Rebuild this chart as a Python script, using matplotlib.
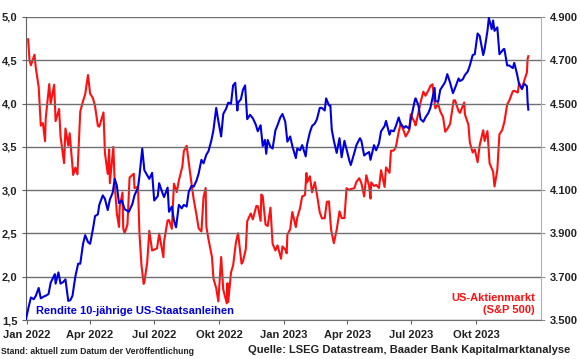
import matplotlib
matplotlib.use("Agg")
import matplotlib.pyplot as plt
import matplotlib.ticker as mticker
import pandas as pd

plt.rcParams['font.family'] = ['Liberation Sans', 'DejaVu Sans']
plt.rcParams['font.weight'] = 'bold'

yield_dates = [
"2021-12-31","2022-01-04","2022-01-07","2022-01-11","2022-01-14","2022-01-18","2022-01-21","2022-01-25","2022-01-28",
"2022-02-01","2022-02-04","2022-02-10","2022-02-11","2022-02-15","2022-02-18","2022-02-22","2022-02-25","2022-03-01",
"2022-03-04","2022-03-07","2022-03-11","2022-03-15","2022-03-18","2022-03-22","2022-03-25","2022-03-29","2022-04-01",
"2022-04-05","2022-04-08","2022-04-12","2022-04-14","2022-04-19","2022-04-22","2022-04-26","2022-04-29","2022-05-03",
"2022-05-06","2022-05-09","2022-05-12","2022-05-16","2022-05-20","2022-05-26","2022-05-31","2022-06-03","2022-06-08",
"2022-06-10","2022-06-14","2022-06-17","2022-06-22","2022-06-24","2022-06-28","2022-07-01","2022-07-06","2022-07-08",
"2022-07-13","2022-07-15","2022-07-20","2022-07-22","2022-07-26","2022-07-29","2022-08-01","2022-08-05","2022-08-09",
"2022-08-12","2022-08-16","2022-08-19","2022-08-23","2022-08-26","2022-08-30","2022-09-02","2022-09-06","2022-09-09",
"2022-09-13","2022-09-16","2022-09-20","2022-09-23","2022-09-27","2022-09-30","2022-10-04","2022-10-07","2022-10-11",
"2022-10-14","2022-10-18","2022-10-21","2022-10-24","2022-10-27","2022-10-28","2022-11-01","2022-11-04","2022-11-07",
"2022-11-10","2022-11-14","2022-11-18","2022-11-22","2022-11-25","2022-11-29","2022-12-02","2022-12-05","2022-12-07",
"2022-12-09","2022-12-13","2022-12-16","2022-12-20","2022-12-23","2022-12-27","2022-12-30",
"2023-01-03","2023-01-06","2023-01-10","2023-01-13","2023-01-18","2023-01-20","2023-01-24","2023-01-27","2023-02-01",
"2023-02-03","2023-02-07","2023-02-10","2023-02-14","2023-02-17","2023-02-21","2023-02-24","2023-02-28","2023-03-02",
"2023-03-06","2023-03-08","2023-03-10","2023-03-13","2023-03-17","2023-03-21","2023-03-24","2023-03-28","2023-03-31",
"2023-04-04","2023-04-06","2023-04-11","2023-04-14","2023-04-19","2023-04-21","2023-04-25","2023-04-28","2023-05-02",
"2023-05-04","2023-05-09","2023-05-12","2023-05-16","2023-05-19","2023-05-24","2023-05-26","2023-05-31","2023-06-02",
"2023-06-06","2023-06-09","2023-06-13","2023-06-16","2023-06-21","2023-06-23","2023-06-28","2023-06-30","2023-07-06",
"2023-07-07","2023-07-11","2023-07-14","2023-07-18","2023-07-21","2023-07-25","2023-07-28","2023-08-03","2023-08-04",
"2023-08-08","2023-08-11","2023-08-15","2023-08-18","2023-08-21","2023-08-25","2023-08-29","2023-09-01","2023-09-06",
"2023-09-08","2023-09-12","2023-09-15","2023-09-19","2023-09-22","2023-09-26","2023-09-29","2023-10-03","2023-10-06",
"2023-10-11","2023-10-13","2023-10-17","2023-10-19","2023-10-23","2023-10-25","2023-10-27","2023-10-31","2023-11-02",
"2023-11-03","2023-11-09","2023-11-10","2023-11-14","2023-11-17","2023-11-22","2023-11-24","2023-11-28","2023-12-01",
"2023-12-05","2023-12-08","2023-12-12","2023-12-13","2023-12-14"]
yield_values = [
1.51,1.66,1.76,1.74,1.78,1.87,1.75,1.77,1.78,
1.80,1.93,2.03,1.92,2.05,1.92,1.94,1.97,1.72,
1.73,1.78,2.00,2.15,2.15,2.38,2.48,2.40,2.38,
2.55,2.70,2.72,2.83,2.94,2.90,2.77,2.89,2.97,
3.13,3.05,2.85,2.88,2.78,2.75,2.84,2.94,3.03,
3.16,3.48,3.23,3.16,3.13,3.20,2.88,2.93,3.08,
2.96,2.92,3.03,2.75,2.81,2.65,2.57,2.83,2.79,
2.83,2.81,2.98,3.05,3.04,3.11,3.19,3.35,3.31,
3.41,3.45,3.57,3.69,3.95,3.80,3.62,3.88,3.94,
4.01,4.00,4.21,4.24,3.92,4.01,4.05,4.16,4.21,
3.82,3.87,3.83,3.76,3.68,3.75,3.51,3.58,3.42,
3.58,3.50,3.48,3.69,3.75,3.84,3.88,
3.79,3.56,3.62,3.51,3.37,3.48,3.46,3.52,3.39,
3.53,3.67,3.74,3.77,3.82,3.95,3.95,3.92,4.06,
3.98,3.98,3.70,3.57,3.43,3.60,3.38,3.57,3.47,
3.34,3.29,3.43,3.52,3.60,3.57,3.40,3.42,3.44,
3.35,3.52,3.46,3.54,3.68,3.74,3.80,3.64,3.69,
3.68,3.74,3.84,3.76,3.72,3.74,3.71,3.81,4.04,
4.06,3.98,3.82,3.79,3.84,3.89,3.95,4.18,4.03,
4.02,4.16,4.21,4.25,4.34,4.24,4.12,4.18,4.29,
4.26,4.28,4.33,4.37,4.44,4.56,4.57,4.81,4.78,
4.56,4.63,4.84,4.99,4.86,4.96,4.84,4.88,4.67,
4.57,4.63,4.63,4.44,4.44,4.41,4.47,4.34,4.22,
4.17,4.23,4.20,4.02,3.93]

spx_dates = [
"2022-01-03","2022-01-05","2022-01-07","2022-01-12","2022-01-14","2022-01-18","2022-01-21","2022-01-24","2022-01-27",
"2022-01-28","2022-02-02","2022-02-04","2022-02-09","2022-02-11","2022-02-16","2022-02-18","2022-02-23","2022-02-25",
"2022-03-01","2022-03-03","2022-03-08","2022-03-11","2022-03-14","2022-03-18","2022-03-22","2022-03-25","2022-03-29",
"2022-04-01","2022-04-05","2022-04-08","2022-04-12","2022-04-14","2022-04-20","2022-04-22","2022-04-26","2022-04-28",
"2022-04-29","2022-05-04","2022-05-06","2022-05-09","2022-05-12","2022-05-13","2022-05-17","2022-05-18","2022-05-20",
"2022-05-24","2022-05-27","2022-06-02","2022-06-03","2022-06-08","2022-06-10","2022-06-13","2022-06-16","2022-06-17",
"2022-06-21","2022-06-24","2022-06-28","2022-07-01","2022-07-05","2022-07-08","2022-07-14","2022-07-15","2022-07-20",
"2022-07-22","2022-07-26","2022-07-29","2022-08-02","2022-08-05","2022-08-10","2022-08-12","2022-08-16","2022-08-19",
"2022-08-23","2022-08-26","2022-08-30","2022-09-02","2022-09-06","2022-09-09","2022-09-12","2022-09-13","2022-09-16",
"2022-09-21","2022-09-23","2022-09-27","2022-09-30","2022-10-04","2022-10-07","2022-10-12","2022-10-13","2022-10-14",
"2022-10-18","2022-10-21","2022-10-25","2022-10-28","2022-11-02","2022-11-04","2022-11-08","2022-11-10","2022-11-15",
"2022-11-18","2022-11-23","2022-11-25","2022-11-29","2022-11-30","2022-12-02","2022-12-06","2022-12-09","2022-12-13",
"2022-12-16","2022-12-20","2022-12-23","2022-12-28","2022-12-30",
"2023-01-03","2023-01-05","2023-01-06","2023-01-10","2023-01-13","2023-01-18","2023-01-20","2023-01-24","2023-01-27",
"2023-01-31","2023-02-02","2023-02-03","2023-02-07","2023-02-10","2023-02-14","2023-02-17","2023-02-21","2023-02-24",
"2023-02-28","2023-03-03","2023-03-06","2023-03-09","2023-03-13","2023-03-17","2023-03-21","2023-03-24","2023-03-28",
"2023-03-31","2023-04-04","2023-04-06","2023-04-11","2023-04-14","2023-04-18","2023-04-21","2023-04-25","2023-04-28",
"2023-05-02","2023-05-04","2023-05-05","2023-05-09","2023-05-12","2023-05-16","2023-05-19","2023-05-24","2023-05-26",
"2023-05-31","2023-06-02","2023-06-06","2023-06-09","2023-06-13","2023-06-16","2023-06-21","2023-06-23","2023-06-28",
"2023-06-30","2023-07-06","2023-07-07","2023-07-12","2023-07-14","2023-07-18","2023-07-21","2023-07-26","2023-07-28",
"2023-07-31","2023-08-03","2023-08-04","2023-08-08","2023-08-11","2023-08-15","2023-08-18","2023-08-22","2023-08-25",
"2023-08-30","2023-09-01","2023-09-06","2023-09-08","2023-09-14","2023-09-15","2023-09-20","2023-09-22","2023-09-26",
"2023-09-29","2023-10-03","2023-10-06","2023-10-11","2023-10-13","2023-10-17","2023-10-20","2023-10-25","2023-10-27",
"2023-10-31","2023-11-03","2023-11-07","2023-11-10","2023-11-14","2023-11-17","2023-11-22","2023-11-24","2023-11-29",
"2023-12-01","2023-12-05","2023-12-08","2023-12-12","2023-12-13","2023-12-14"]
spx_values = [
4797,4700,4677,4726,4663,4577,4398,4410,4326,
4432,4590,4501,4587,4419,4475,4349,4225,4385,
4306,4363,4170,4204,4173,4463,4512,4543,4632,
4546,4525,4488,4397,4393,4459,4272,4175,4288,
4132,4300,4123,3991,3930,4024,4089,3923,3901,
3941,4158,4176,4109,4116,3901,3750,3667,3675,
3765,3912,3821,3825,3831,3899,3790,3863,3960,
3962,3921,4130,4091,4145,4210,4280,4305,4228,
4128,4058,3986,3924,3909,4067,4110,3932,3873,
3790,3693,3647,3586,3791,3640,3577,3670,3583,
3720,3753,3859,3901,3760,3771,3828,3956,3992,
3965,4027,4026,3958,4080,4072,3941,3934,4019,
3852,3821,3845,3783,3840,
3825,3808,3895,3919,3999,3929,3973,4017,4071,
4077,4179,4136,4164,4090,4137,4079,3997,3970,
3970,4046,4048,3918,3855,3917,4002,3971,3971,
4109,4100,4105,4109,4138,4155,4133,4071,4169,
4119,4061,4136,4119,4124,4110,4192,4115,4205,
4180,4282,4283,4299,4369,4410,4366,4348,4377,
4450,4411,4399,4473,4505,4555,4536,4566,4582,
4589,4502,4478,4499,4464,4437,4370,4388,4406,
4515,4515,4465,4457,4505,4450,4402,4320,4274,
4288,4229,4308,4377,4327,4373,4224,4186,4117,
4194,4358,4378,4415,4496,4514,4557,4559,4551,
4595,4567,4604,4644,4707,4719]

x_ticks = ["2022-01-01","2022-04-01","2022-07-01","2022-10-01","2023-01-01","2023-04-01","2023-07-01","2023-10-01"]
x_labels = ["Jan 2022","Apr 2022","Jul 2022","Okt 2022","Jan 2023","Apr 2023","Jul 2023","Okt 2023"]
left_ticks = [1.5, 2.0, 2.5, 3.0, 3.5, 4.0, 4.5, 5.0]
right_ticks = [3500, 3700, 3900, 4100, 4300, 4500, 4700, 4900]

BLUE = "#0000dd"
RED = "#ff1010"

fig = plt.figure(figsize=(5.8, 3.59), dpi=100)
ax = fig.add_axes([26/580, 39/359, 515/580, 303/359])
ax2 = ax.twinx()

yd = pd.to_datetime(yield_dates)
sd = pd.to_datetime(spx_dates)

ax2.plot(sd, spx_values, color=RED, lw=1.5, zorder=2)
ax.plot(yd, yield_values, color=BLUE, lw=1.5, zorder=3)
ax.set_zorder(ax2.get_zorder() + 1)
ax.patch.set_visible(False)

ax.set_xlim(pd.Timestamp("2021-12-31"), pd.Timestamp("2024-01-01"))
ax.set_ylim(1.5, 5.0)
ax2.set_ylim(3500, 4900)

ax.set_yticks(left_ticks)
ax.yaxis.set_major_formatter(mticker.FuncFormatter(lambda v, p: f"{v:.1f}".replace(".", ",")))
ax2.set_yticks(right_ticks)
ax2.yaxis.set_major_formatter(mticker.FuncFormatter(lambda v, p: f"{int(v):,}".replace(",", ".")))

ax.set_xticks(pd.to_datetime(x_ticks))
ax.set_xticklabels(x_labels)

ax.grid(axis='y', color="#707070", lw=1.0)
ax.set_axisbelow(True)

for a in (ax, ax2):
    for s in a.spines.values():
        s.set_visible(False)
ax.spines['left'].set_visible(True)
ax.spines['left'].set_color("#606060")
ax.spines['bottom'].set_visible(True)
ax.spines['bottom'].set_color("#707070")
ax2.spines['right'].set_visible(True)
ax2.spines['right'].set_color("#b0b0b0")

ax.tick_params(axis='y', labelsize=8, length=3, color="#606060", pad=3, labelcolor="#222222")
ax.tick_params(axis='x', labelsize=8, length=3, color="#606060", pad=4, labelcolor="#222222")
ax2.tick_params(axis='y', labelsize=8, length=3, color="#909090", pad=3.5, labelcolor="#222222")
for lab in ax.get_xticklabels() + ax.get_yticklabels() + ax2.get_yticklabels():
    lab.set_fontweight('bold')

ax.text(0.019, 0.03, "Rendite 10-jährige US-Staatsanleihen", transform=ax.transAxes,
        color=BLUE, fontsize=8, fontweight='bold', ha='left', va='center')
ax.text(0.988, 0.073, "US-Aktienmarkt", transform=ax.transAxes,
        color=RED, fontsize=8, fontweight='bold', ha='right', va='center')
ax.text(0.988, 0.033, "(S&P 500)", transform=ax.transAxes,
        color=RED, fontsize=8, fontweight='bold', ha='right', va='center')

fig.text(1/580, 1 - 352/359, "Stand: aktuell zum Datum der Veröffentlichung", fontsize=6.2,
         fontweight='bold', ha='left', va='center', color="#222222")
fig.text(570/580, 1 - 350/359, "Quelle: LSEG Datastream, Baader Bank Kapitalmarktanalyse", fontsize=8,
         fontweight='bold', ha='right', va='center', color="#222222")

fig.savefig("out.png", dpi=100)
